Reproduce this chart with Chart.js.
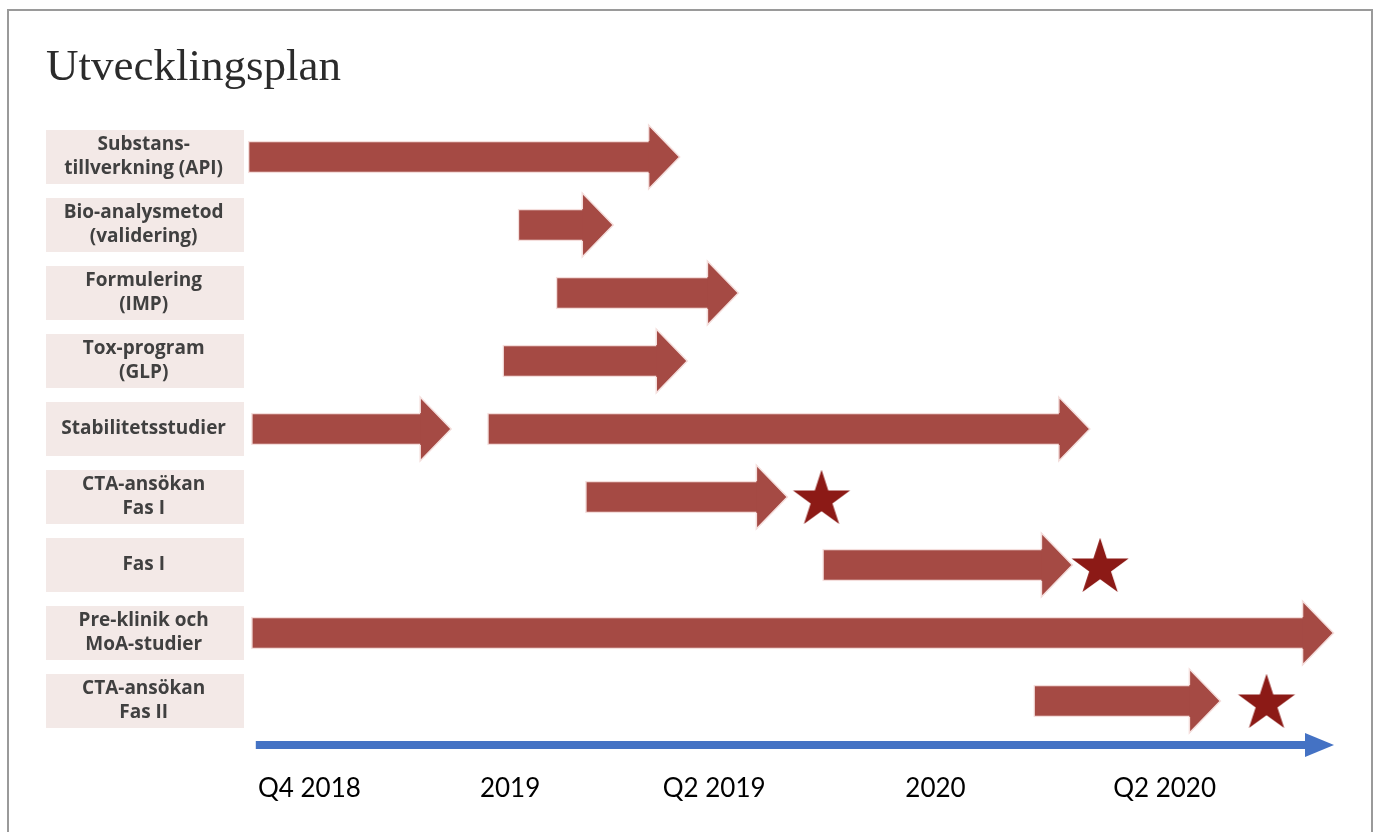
<!DOCTYPE html>
<html>
<head>
<meta charset="utf-8">
<title>Utvecklingsplan</title>
<script src="https://cdn.jsdelivr.net/npm/chart.js@4.4.1/dist/chart.umd.min.js"></script>
<style>
    body { margin: 0; background: #fff; }
    #ram { position: absolute; left: 7px; top: 9px; width: 1362px; height: 840px; border: 2px solid #9a9a9a; }
    #myChart { position: absolute; left: 0; top: 0; }
</style>
</head>
<body>
<div id="ram"></div>
<canvas id="myChart" width="1376" height="832"></canvas>
<script>
// aktiviteter (rader uppifrån)
const rader = [
    ['Substans-', 'tillverkning (API)'],
    ['Bio-analysmetod', '(validering)'],
    ['Formulering', '(IMP)'],
    ['Tox-program', '(GLP)'],
    'Stabilitetsstudier',
    ['CTA-ansökan', 'Fas I'],
    'Fas I',
    ['Pre-klinik och', 'MoA-studier'],
    ['CTA-ansökan', 'Fas II']
]

// tidsaxeln, 0-100 = hela planen (bilden är inte skalenlig)
const tickVarden = [1.1, 21.5, 38.3, 60.6, 79.7]
const tickLabels = ['Q4 2018', '2019', 'Q2 2019', '2020', 'Q2 2020']

// pilar: rad, start, slut (där pilspetsen börjar)
const pilRad = [0, 1, 2, 3, 4, 4, 5, 6, 7, 8]
const pilStart = [0.2, 25.0, 28.5, 23.6, 0.5, 22.2, 31.2, 53.0, 0.5, 72.4]
const pilSlut = [37.1, 31.0, 42.5, 37.8, 16.1, 74.8, 47.0, 73.2, 97.2, 86.8]

// milstolpar (stjärnor)
const stjarnaRad = [5, 6, 8]
const stjarnaX = [52.9, 78.5, 93.8]

const pilFarg = '#a54a44'
const kantFarg = '#f4dedc'
const stjarnFarg = '#8c1a16'
const axelFarg = '#4472c4'

function gorStjarna(r, farg) {
    var c = document.createElement('canvas')
    c.width = Math.ceil(r * 2) + 2
    c.height = Math.ceil(r * 2) + 2
    var ctx = c.getContext('2d')
    var cx = c.width / 2
    var cy = c.height / 2 + r * 0.095
    ctx.beginPath()
    for (var i = 0; i < 10; i++) {
        var rr = i % 2 === 0 ? r : r * 0.382
        var a = -Math.PI / 2 + i * Math.PI / 5
        ctx.lineTo(cx + rr * Math.cos(a), cy + rr * Math.sin(a))
    }
    ctx.closePath()
    ctx.fillStyle = farg
    ctx.fill()
    return c
}

const pilData = pilRad.map(function (r, i) {
    return { y: r, x: [pilStart[i], pilSlut[i]] }
})
const stjarnData = stjarnaRad.map(function (r, i) {
    return { x: stjarnaX[i], y: r }
})

const pilPlugin = {
    id: 'pilar',
    // rutor bakom etiketterna, ritas före axlarna
    beforeDraw: function (chart) {
        var ctx = chart.ctx
        var y = chart.scales.y
        ctx.save()
        ctx.fillStyle = '#f3e9e7'
        rader.forEach(function (r, i) {
            var py = y.getPixelForValue(i)
            ctx.fillRect(y.left, py - 27, y.right - y.left - 2, 54)
        })
        ctx.restore()
    },
    afterDatasetsDraw: function (chart) {
        var ctx = chart.ctx
        var x = chart.scales.x
        var area = chart.chartArea
        var meta = chart.getDatasetMeta(0)
        ctx.save()
        // pilspetsar
        meta.data.forEach(function (bar) {
            var p = bar.getProps(['x', 'y', 'height'], true)
            var h = p.height / 2
            ctx.beginPath()
            ctx.moveTo(p.x - 1, p.y - h)
            ctx.lineTo(p.x - 1, p.y - 32)
            ctx.lineTo(p.x + 30, p.y)
            ctx.lineTo(p.x - 1, p.y + 32)
            ctx.lineTo(p.x - 1, p.y + h)
            ctx.closePath()
            ctx.fillStyle = pilFarg
            ctx.fill()
            ctx.beginPath()
            ctx.moveTo(p.x - 1, p.y - h)
            ctx.lineTo(p.x - 1, p.y - 32)
            ctx.lineTo(p.x + 30, p.y)
            ctx.lineTo(p.x - 1, p.y + 32)
            ctx.lineTo(p.x - 1, p.y + h)
            ctx.strokeStyle = kantFarg
            ctx.lineWidth = 1.5
            ctx.stroke()
        })
        // blå tidsaxel
        var ay = area.bottom + 10
        var x0 = x.getPixelForValue(0.9)
        var x1 = area.right
        ctx.fillStyle = axelFarg
        ctx.fillRect(x0, ay - 4, x1 - 28 - x0, 8)
        ctx.beginPath()
        ctx.moveTo(x1 - 29, ay - 12)
        ctx.lineTo(x1, ay)
        ctx.lineTo(x1 - 29, ay + 12)
        ctx.closePath()
        ctx.fill()
        ctx.restore()
    }
}

const config = {
    type: 'bar',
    data: {
        datasets: [{
            label: 'Aktivitet',
            data: pilData,
            backgroundColor: pilFarg,
            borderColor: kantFarg,
            borderWidth: 1.5,
            borderSkipped: 'right',
            barThickness: 32
        }, {
            type: 'scatter',
            label: 'Milstolpe',
            data: stjarnData,
            pointStyle: gorStjarna(30, stjarnFarg)
        }]
    },
    options: {
        indexAxis: 'y',
        responsive: false,
        animation: false,
        devicePixelRatio: 1,
        layout: { padding: { left: 46, right: 42, top: 30, bottom: 0 } },
        plugins: {
            legend: { display: false },
            tooltip: { enabled: false },
            title: {
                display: true,
                text: 'Utvecklingsplan',
                align: 'start',
                color: '#2b2b2b',
                font: { family: 'Liberation Serif', size: 45, weight: 'normal', lineHeight: 1.2 },
                padding: { top: 11, bottom: 28 }
            }
        },
        scales: {
            x: {
                type: 'linear',
                min: 0,
                max: 100,
                grid: { display: false, drawTicks: false },
                border: { display: false },
                afterFit: function (s) {
                    s.height = 97
                    s.paddingLeft = 0
                    s.paddingRight = 0
                },
                afterBuildTicks: function (s) {
                    s.ticks = tickVarden.map(function (v) { return { value: v } })
                },
                ticks: {
                    align: 'start',
                    maxRotation: 0,
                    autoSkip: false,
                    padding: 38,
                    color: '#000',
                    font: { family: 'Lato', size: 26 },
                    callback: function (v, i) { return tickLabels[i] }
                }
            },
            y: {
                type: 'linear',
                reverse: true,
                offset: false,
                min: -0.5,
                max: 8.5,
                grid: { display: false, drawTicks: false, offset: false },
                border: { display: false },
                afterFit: function (s) {
                    s.width = 200
                    s.paddingTop = 0
                    s.paddingBottom = 0
                },
                afterBuildTicks: function (s) {
                    s.ticks = rader.map(function (r, i) { return { value: i } })
                },
                ticks: {
                    crossAlign: 'center',
                    autoSkip: false,
                    padding: 20,
                    color: '#404040',
                    font: { family: 'Open Sans', size: 19, weight: 'bold', lineHeight: 1.26 },
                    callback: function (v, i) { return rader[i] }
                }
            }
        }
    },
    plugins: [pilPlugin]
}

const myChart = new Chart(document.getElementById('myChart'), config)
</script>
</body>
</html>
